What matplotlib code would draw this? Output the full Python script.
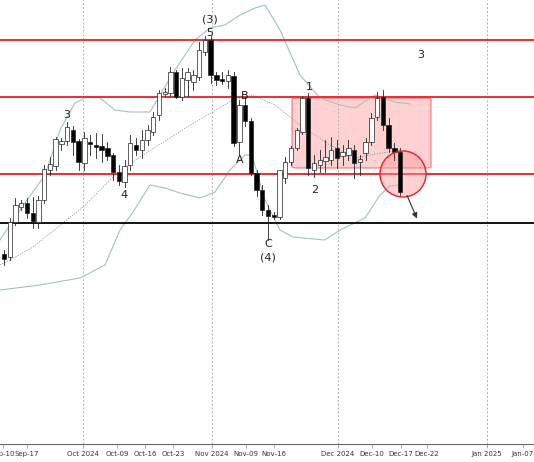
import numpy as np
import matplotlib
matplotlib.use('Agg')
from matplotlib import pyplot as plt
from matplotlib.patches import FancyBboxPatch, Rectangle, Ellipse

# candle readings (chart level = 470 - screen row), one entry per trading day
raw_open  = [254,257,222,207,203,213,222,200,170,166,144,141,130,141,163,142,145,146,148,155,
             172,182,165,145,150,140,132,115,94,93,72,97,80,82,77,52,40,75,79,81,
             76,142,105,121,173,190,210,215,217,178,162,148,132,98,170,165,161,160,148,156,
             155,150,162,153,142,117,97,125,148,152]
raw_high  = [250,218,198,200,198,197,196,165,157,137,138,122,126,139,132,135,133,134,142,153,
             165,160,135,138,130,125,112,90,88,67,70,68,68,70,42,36,36,72,72,70,
             72,100,97,118,170,185,205,212,170,157,146,128,96,93,155,150,140,137,140,145,
             140,145,155,138,113,92,90,118,143,148]
raw_low   = [265,260,225,210,218,228,228,203,175,170,150,145,155,170,170,155,158,162,160,180,
             185,187,170,155,158,145,135,120,96,96,98,100,96,90,80,55,83,85,84,88,
             146,155,126,175,196,215,240,219,219,183,165,150,134,175,177,172,172,165,168,165,
             160,178,175,160,145,120,130,152,160,195]
raw_close = [259,222,205,203,213,221,200,169,164,139,141,127,142,162,138,144,147,150,156,172,
             181,166,143,150,140,130,117,93,92,72,97,78,72,75,50,40,75,80,81,75,
             143,105,121,173,190,210,216,217,170,162,148,130,98,168,163,160,157,150,158,152,
             148,163,159,142,118,98,125,148,152,192]

BASE = 470
opens = BASE - np.array(raw_open)
highs = BASE - np.array(raw_high)
lows = BASE - np.array(raw_low)
closes = BASE - np.array(raw_close)

# bollinger bands read at a few screen columns
band_x = [0, 20, 45, 60, 75, 87, 100, 115, 130, 150, 160, 175, 195, 210, 225, 240, 255, 265, 280, 300, 320, 340, 355, 375, 395, 410]
band_up = [240, 210, 175, 130, 103, 97, 98, 110, 112, 112, 95, 70, 40, 28, 25, 15, 8, 5, 30, 75, 98, 105, 108, 95, 102, 104]
low_x = [0, 40, 80, 105, 120, 133, 150, 165, 180, 200, 215, 230, 245, 252, 265, 280, 293, 325, 340, 365, 380, 390, 400]
band_low = [290, 285, 278, 265, 230, 212, 185, 188, 193, 198, 192, 170, 155, 155, 200, 230, 237, 240, 230, 218, 195, 186, 185]
mid_x = [0, 10, 33, 83, 117, 140, 187, 233, 253, 275, 300, 330, 355, 370, 400]
band_mid = [265, 260, 247, 207, 173, 157, 127, 100, 95, 105, 125, 145, 158, 155, 150]

tick_x = [3, 27, 83, 117, 145, 173, 212, 246, 274, 338, 372, 401, 427, 487, 523]
tick_lbl = ['Sep-10', 'Sep-17', 'Oct 2024', 'Oct-09', 'Oct-16', 'Oct-23', 'Nov 2024', 'Nov-09',
            'Nov-16', 'Dec 2024', 'Dec-10', 'Dec-17', 'Dec-22', 'Jan 2025', 'Jan-07']
month_x = [83, 212, 338, 487]

STEP = 5.74
def px(x):
    return (np.asarray(x, dtype=float) - 4) / STEP
def pr(y):
    return BASE - np.asarray(y, dtype=float)

fig = plt.figure(figsize=(5.34, 4.62), dpi=100)
ax = fig.add_axes([0, 18/462, 1, 444/462])
ax.set_xlim(px(0), px(534))
ax.set_ylim(pr(444), pr(0))

for mx in month_x:
    ax.axvline(px(mx), color='#b0b0b0', lw=0.7, ls=(0, (2, 2)))

ax.plot(px(band_x), pr(band_up), color='#9cc5c0', lw=0.8)
ax.plot(px(low_x), pr(band_low), color='#9cc5c0', lw=0.8)
ax.plot(px(mid_x), pr(band_mid), color='#999999', lw=0.6, ls=(0, (1.5, 1.5)))

# levels
for y in [40, 97, 174]:
    ax.axhline(pr(y), color='#ee1c24', lw=1.3)
ax.axhline(pr(223), color='black', lw=1.3)

box = FancyBboxPatch((px(292), pr(168)), px(431) - px(292), pr(98) - pr(168),
                     boxstyle='round,pad=0,rounding_size=1.0', fc='#ff9a9a', ec='#ee1c24', alpha=0.45, lw=1)
ax.add_patch(box)
ax.add_patch(Ellipse((px(403), pr(174)), 46 / STEP, 46, fc='#ff9a9a', alpha=0.45, lw=0, zorder=2))
ax.add_patch(Ellipse((px(403), pr(174)), 46 / STEP, 46, fc='none', ec='#ee1c24', lw=1, zorder=5))

for i in range(len(opens)):
    o, h, l, c = opens[i], highs[i], lows[i], closes[i]
    ax.plot([i, i], [l, h], color='#222222', lw=0.6, zorder=3)
    bull = c >= o
    body = max(abs(c - o), 1.2)
    ax.add_patch(Rectangle((i - 0.38, min(o, c)), 0.76, body,
                           fc='white' if bull else 'black', ec='#222222', lw=0.5, zorder=4))

ax.annotate('', xy=(px(418), pr(221)), xytext=(px(406), pr(193)),
            arrowprops=dict(arrowstyle='-|>', color='#333333', lw=0.8, mutation_scale=8), zorder=6)

labels = [('(3)', 210, 20), ('5', 210, 33), ('1', 309, 87), ('2', 315, 190), ('3', 67, 115),
          ('4', 124, 195), ('A', 240, 160), ('B', 245, 96), ('C', 268, 244), ('(4)', 268, 258), ('3', 421, 55)]
for t, x, y in labels:
    ax.text(px(x), pr(y), t, ha='center', va='center', fontsize=8, color='#222222', zorder=7)

ax.set_xticks(px(tick_x))
ax.set_xticklabels(tick_lbl, fontsize=5, color='#333333')
ax.tick_params(axis='x', length=3, width=0.5, color='#888888', pad=2)
ax.set_yticks([])
for s in ['top', 'right', 'left']:
    ax.spines[s].set_visible(False)
ax.spines['bottom'].set_color('#666666')
ax.spines['bottom'].set_linewidth(0.8)

fig.savefig('out.png', dpi=100)
